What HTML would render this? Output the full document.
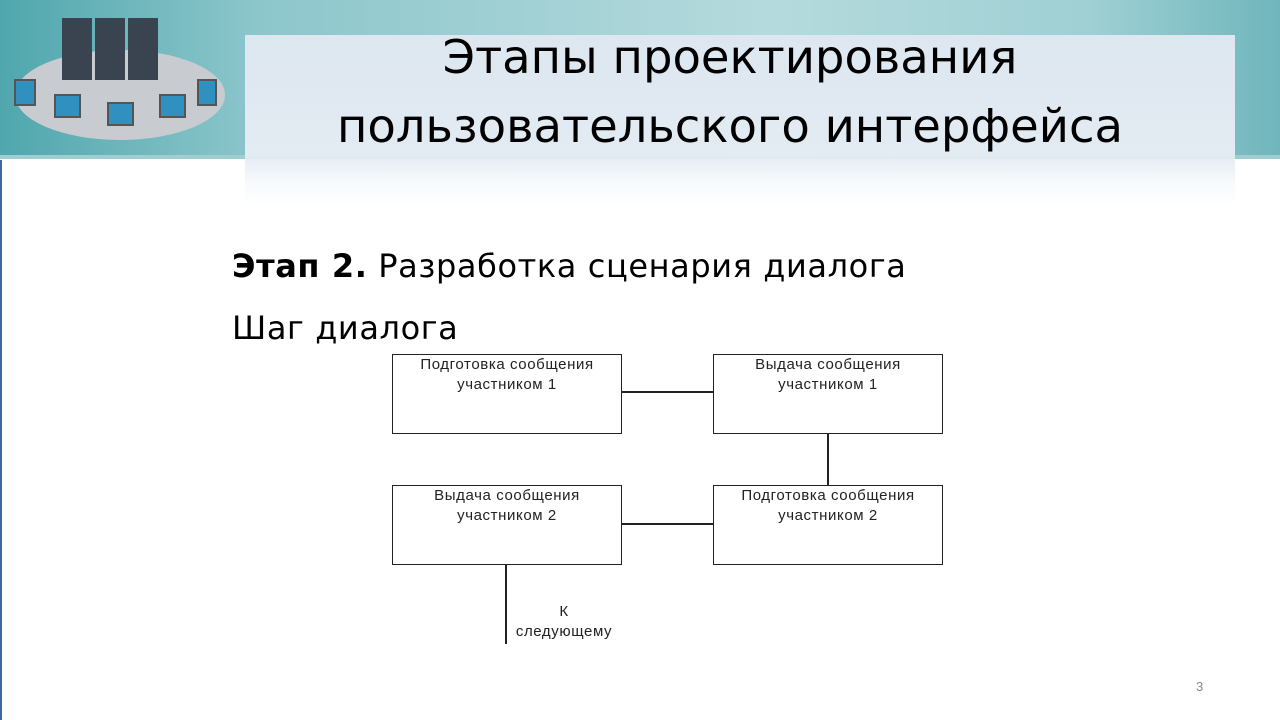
<!DOCTYPE html>
<html><head><meta charset="utf-8"><style>
body{margin:0;width:1280px;height:720px;position:relative;background:#fff;overflow:hidden;font-family:"Liberation Sans",sans-serif}
.hdr{position:absolute;left:0;top:0;width:1280px;height:158px;background:linear-gradient(90deg,#4fa7ad 0%,#8cc6cb 20%,#b5dadd 60%,#9fd0d4 85%,#6fb6bc 100%)}
.hl{position:absolute;left:0;top:155px;width:1280px;height:4px;background:#9fcdd2}
.panel{position:absolute;left:245px;top:35px;width:990px;height:170px;background:linear-gradient(180deg,#dde7f0 0%,#e3ebf3 70%,rgba(240,244,248,0.6) 85%,rgba(255,255,255,0) 100%)}
.title{position:absolute;left:200px;width:1080px;text-align:center;font-family:"DejaVu Sans","Liberation Sans",sans-serif;font-size:46.5px;color:#000;line-height:1;margin-left:-10px}
.lb{position:absolute;left:0;top:160px;width:2px;height:560px;background:#3b6a9a}
.t{position:absolute;font-family:"DejaVu Sans","Liberation Sans",sans-serif;font-size:32px;letter-spacing:0.6px;color:#000}
.box{position:absolute;border:1.5px solid #222;width:230px;height:80px;box-sizing:border-box;text-align:center;font-size:15px;letter-spacing:0.6px;line-height:20px;padding-top:0px;color:#222}
.ln{position:absolute;background:#222}
</style></head><body>
<div class="hdr"></div>
<div class="hl"></div>
<svg style="position:absolute;left:0;top:0" width="245" height="160">
<ellipse cx="120" cy="95" rx="105" ry="45" fill="#c8ccd0"/>
<rect x="62" y="18" width="30" height="62" fill="#3a4450"/>
<rect x="95" y="18" width="30" height="62" fill="#3a4450"/>
<rect x="128" y="18" width="30" height="62" fill="#3a4450"/>
<g fill="#3090c0" stroke="#555" stroke-width="2">
<rect x="15" y="80" width="20" height="25"/><rect x="55" y="95" width="25" height="22"/><rect x="108" y="103" width="25" height="22"/><rect x="160" y="95" width="25" height="22"/><rect x="198" y="80" width="18" height="25"/>
</g></svg>
<div class="panel"></div>
<div class="title" style="top:34px">Этапы проектирования</div>
<div class="title" style="top:103px">пользовательского интерфейса</div>
<div class="lb"></div>
<div class="t" style="left:232px;top:247px"><b>Этап 2.</b> Разработка сценария диалога</div>
<div class="t" style="left:232px;top:309px">Шаг диалога</div>
<div class="box" style="left:392px;top:354px">Подготовка сообщения<br>участником 1</div>
<div class="box" style="left:713px;top:354px">Выдача сообщения<br>участником 1</div>
<div class="box" style="left:392px;top:485px">Выдача сообщения<br>участником 2</div>
<div class="box" style="left:713px;top:485px">Подготовка сообщения<br>участником 2</div>
<div class="ln" style="left:621px;top:391px;width:93px;height:1.5px"></div>
<div class="ln" style="left:827px;top:433px;width:1.5px;height:53px"></div>
<div class="ln" style="left:621px;top:523px;width:93px;height:1.5px"></div>
<div class="ln" style="left:505px;top:564px;width:1.5px;height:80px"></div>
<div style="position:absolute;left:500px;top:602px;width:128px;text-align:center;font-size:15px;letter-spacing:0.6px;line-height:20px;color:#222">К<br>следующему</div>
<div style="position:absolute;left:1196px;top:679px;font-size:13px;color:#888">3</div>
</body></html>
